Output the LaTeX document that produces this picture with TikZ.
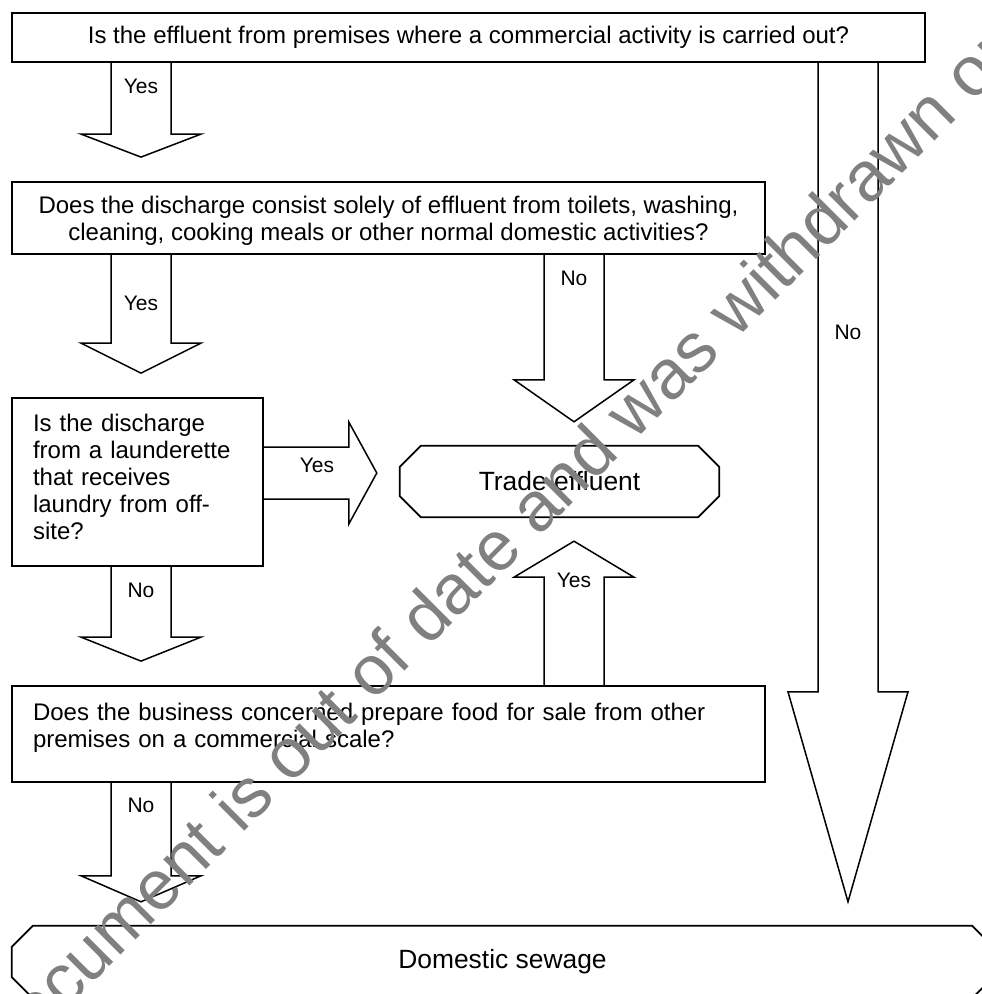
\documentclass[tikz,border=0pt]{standalone}
\usepackage{fontspec}
\setmainfont{Liberation Sans}
\usetikzlibrary{calc}

\tikzset{
  qbox/.style={draw, line width=1.8pt, rectangle, inner sep=0pt, font=\fontsize{24}{27}\selectfont},
  endbox/.style={rectangle, inner sep=0pt, font=\fontsize{26.4}{30}\selectfont},
  blockline/.style={draw, line width=1.5pt, line join=miter},
  answer/.style={inner sep=0pt, font=\fontsize{21}{24}\selectfont},
  wmark/.style={inner sep=0pt, text=gray, font=\fontsize{70}{80}\selectfont, rotate=45, anchor=base west}
}

% block arrow going down: from, to, column, head length, half head width
\newcommand{\downblock}[5]{%
  \draw[blockline] ($(#1.south -| #3)+(-30,0)$) -- ($(#2.north -| #3)+(-30,-24-#4)$)
    -- ($(#2.north -| #3)+(-#5,-24-#4)$) -- ($(#2.north -| #3)+(0,-24)$)
    -- ($(#2.north -| #3)+(#5,-24-#4)$) -- ($(#2.north -| #3)+(30,-24-#4)$)
    -- ($(#1.south -| #3)+(30,0)$);}
% block arrow going up
\newcommand{\upblock}[5]{%
  \draw[blockline] ($(#1.north -| #3)+(-30,0)$) -- ($(#2.south -| #3)+(-30,24+#4)$)
    -- ($(#2.south -| #3)+(-#5,24+#4)$) -- ($(#2.south -| #3)+(0,24)$)
    -- ($(#2.south -| #3)+(#5,24+#4)$) -- ($(#2.south -| #3)+(30,24+#4)$)
    -- ($(#1.north -| #3)+(30,0)$);}
% block arrow going right
\newcommand{\rightblock}[5]{%
  \draw[blockline] ($(#1.east |- #3)+(0,-26)$) -- ($(#2.west |- #3)+(-23-#4,-26)$)
    -- ($(#2.west |- #3)+(-23-#4,-#5)$) -- ($(#2.west |- #3)+(-23,0)$)
    -- ($(#2.west |- #3)+(-23-#4,#5)$) -- ($(#2.west |- #3)+(-23-#4,26)$)
    -- ($(#1.east |- #3)+(0,26)$);}
% cut-corner frame round an outcome
\newcommand{\octframe}[1]{%
  \draw[line width=1.8pt] ($(#1.north west)+(21,0)$) -- ($(#1.north east)+(-21,0)$)
    -- ($(#1.north east)+(0,21)$) -- ($(#1.south east)+(0,-21)$)
    -- ($(#1.south east)+(-21,0)$) -- ($(#1.south west)+(21,0)$)
    -- ($(#1.south west)+(0,-21)$) -- ($(#1.north west)+(0,21)$) -- cycle;}

\begin{document}
\begin{tikzpicture}[x=1pt, y=-1pt]
  \useasboundingbox (0,0) rectangle (982,994);

  % columns and row of the block arrows
  \coordinate (colL) at (141,0);
  \coordinate (colM) at (574,0);
  \coordinate (colR) at (848,0);
  \coordinate (rowY) at (0,473);

  % questions
  \node[qbox, minimum width=913pt, minimum height=49pt] (q1) at (468.5,37.5)
    {Is the effluent from premises where a commercial activity is carried out?};
  \node[qbox, align=center, minimum width=753pt, minimum height=72pt, text depth=-3pt] (q2) at (388.5,218)
    {Does the discharge consist solely of effluent from toilets, washing,\\cleaning, cooking meals or other normal domestic activities?};
  \node[qbox, align=left, inner xsep=21pt, text width=209pt, minimum height=168pt, text depth=118pt] (q3) at (137.5,482)
    {Is the discharge\\from a launderette\\that receives\\laundry from off-\\site?};
  \node[qbox, align=left, inner xsep=21pt, text width=711pt, minimum height=96pt, text depth=44pt] (q4) at (388.5,734)
    {Does the business concerned prepare food for sale from other\\premises on a commercial scale?};

  % outcomes
  \node[endbox, minimum width=319pt, minimum height=71pt] (trade) at (559.5,481.5) {Trade effluent};
  \node[endbox, minimum width=981pt, minimum height=72pt] (sewage) at (502.5,962) {Domestic sewage};
  \octframe{trade}
  \octframe{sewage}

  % block arrows
  \downblock{q1}{q2}{colL}{23}{60}
  \downblock{q2}{q3}{colL}{30}{60}
  \downblock{q3}{q4}{colL}{24}{60}
  \downblock{q4}{sewage}{colL}{26}{60}
  \downblock{q2}{trade}{colM}{42}{60}
  \downblock{q1}{sewage}{colR}{210}{60}
  \upblock{q4}{trade}{colM}{36}{60}
  \rightblock{q3}{trade}{rowY}{28}{51}

  % answers
  \node[answer] (yes1) at ($(q1.south -| colL)+(0,23)$) {Yes};
  \node[answer] (yes2) at ($(q2.south -| colL)+(0,48)$) {Yes};
  \node[answer] (no3) at ($(q3.south -| colL)+(0,23)$) {No};
  \node[answer] (no4) at ($(q4.south -| colL)+(0,22)$) {No};
  \node[answer] (no2) at ($(q2.south -| colM)+(0,23)$) {No};
  \node[answer] (noR) at ($(q1.south -| colR)+(0,269)$) {No};
  \node[answer] (yesUp) at ($(trade.south -| colM)+(0,63)$) {Yes};
  \node[answer] (yes3) at ($(q3.east |- rowY)+(53,-8)$) {Yes};

  % withdrawal stamp
  \node[wmark] (stamp) at (10,1066) {document is out of date and was withdrawn on};
\end{tikzpicture}
\end{document}
